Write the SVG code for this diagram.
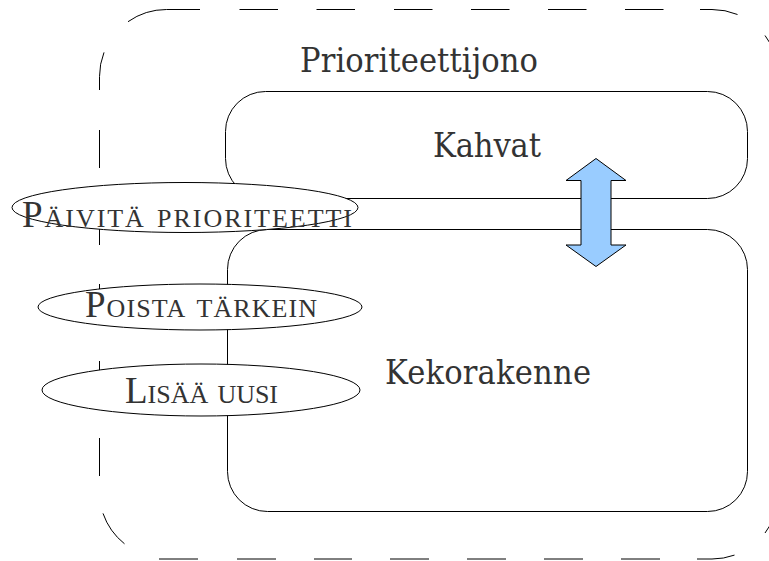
<svg xmlns="http://www.w3.org/2000/svg" width="769" height="561" viewBox="0 0 769 561">
  <style>
    .line { fill: none; stroke: #000; stroke-width: 1; }
    .box { fill: #fff; stroke: #000; stroke-width: 1; }
    .op { fill: #fff; stroke: #000; stroke-width: 1; }
    .title { font-family: "DejaVu Serif Condensed", "DejaVu Serif", serif; font-stretch: condensed; font-size: 34px; fill: #333; text-anchor: middle; }
    .oplabel { font-family: "Liberation Serif", "Times New Roman", serif; font-variant: small-caps; font-size: 37px; fill: #333; text-anchor: middle; }
    .arrow { fill: #99ccff; stroke: #000; stroke-width: 1; stroke-linejoin: miter; }
  </style>

  <!-- outer container: dashed rounded frame, dashes laid out piece by piece -->
  <g id="prioriteettijono">
    <path class="line" d="
      M128,21.7 A67,67 0 0 1 166.5,9.5 H200
      M239.5,9.5 H278 M316.5,9.5 H355 M394,9.5 H432.5 M471,9.5 H509.5 M548,9.5 H586.5 M625,9.5 H663.5
      M700,9.5 H712 A67,67 0 0 1 737.5,14.5
      M765,35.5 A67,67 0 0 1 779,76.5 V90
      M104,52.4 A67,67 0 0 0 99.5,76.5 V90
      M99.5,130 V168 M99.5,207 V245 M99.5,284 V322 M99.5,361 V399 M99.5,438 V476
      M103,513.4 A67,67 0 0 0 124.5,543.8
      M159,559 H198 M237,559 H276 M314,559 H352 M390,559 H429 M467,559 H506 M544,559 H583 M621,559 H660
      M697,559 H712 A67,67 0 0 0 734.5,555.1
      M765,533 A67,67 0 0 0 779,492 V470"/>
    <text class="title" x="419" y="72" textLength="238" lengthAdjust="spacing">Prioriteettijono</text>
  </g>

  <g id="kahvat">
    <rect class="box" x="225.5" y="91.5" width="522" height="107" rx="40" ry="40"/>
    <text class="title" x="487" y="157" textLength="108" lengthAdjust="spacing">Kahvat</text>
  </g>

  <g id="kekorakenne">
    <rect class="box" x="227.5" y="229.5" width="520" height="282" rx="40" ry="40"/>
    <text class="title" x="488" y="384" textLength="206" lengthAdjust="spacing">Kekorakenne</text>
  </g>

  <!-- two-way link between the handles and the heap -->
  <g id="connectors">
    <polygon class="arrow" points="596,158.5 626,180.5 611,180.5 611,245 626,245 596,266.5 566,245 581,245 581,180.5 566,180.5"/>
  </g>

  <g id="paivita-prioriteetti">
    <ellipse class="op" cx="185" cy="207.5" rx="173" ry="25"/>
    <text class="oplabel" x="187" y="227" textLength="330" lengthAdjust="spacing">Päivitä prioriteetti</text>
  </g>

  <g id="poista-tarkein">
    <ellipse class="op" cx="200" cy="307" rx="162" ry="23"/>
    <text class="oplabel" x="201" y="317" textLength="232" lengthAdjust="spacing">Poista tärkein</text>
  </g>

  <g id="lisaa-uusi">
    <ellipse class="op" cx="201" cy="390" rx="159" ry="26"/>
    <text class="oplabel" x="201.5" y="403" textLength="153" lengthAdjust="spacing">Lisää uusi</text>
  </g>
</svg>
